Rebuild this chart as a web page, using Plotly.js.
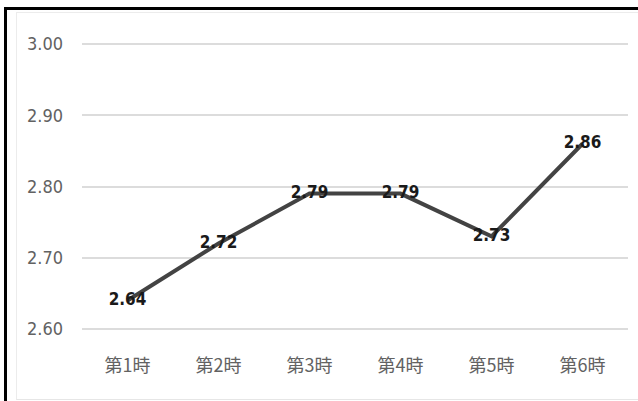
<!DOCTYPE html>
<html>
<head>
<meta charset="utf-8">
<script src="https://cdn.plot.ly/plotly-3.0.1.min.js"></script>
<style>
html,body{margin:0;padding:0;background:#fff;}
#wrap{position:relative;width:638px;height:401px;overflow:hidden;}
#chart{position:absolute;left:0;top:0;width:638px;height:401px;}
#frame{position:absolute;left:4px;top:7px;width:700px;height:500px;border-left:3px solid #000;border-top:3px solid #000;pointer-events:none;}
#inner{position:absolute;left:16px;top:12px;width:640px;height:386px;border-left:1px solid #ececec;border-top:1px solid #ececec;border-bottom:1px solid #e6e6e6;pointer-events:none;}
</style>
</head>
<body>
<div id="wrap">
<div id="chart"></div>
<div id="inner"></div>
<div id="frame"></div>
</div>
<script>
const categories = ["第1時", "第2時", "第3時", "第4時", "第5時", "第6時"];
const values = [2.64, 2.72, 2.79, 2.79, 2.73, 2.86];
const valueLabels = ["2.64", "2.72", "2.79", "2.79", "2.73", "2.86"];
const yTicks = [2.60, 2.70, 2.80, 2.90, 3.00];
const yTickLabels = ["2.60", "2.70", "2.80", "2.90", "3.00"];

const narrow = '"DejaVu Sans Condensed", "Liberation Sans Narrow", "Arial Narrow", sans-serif';

const trace = {
  x: categories,
  y: values,
  type: 'scatter',
  mode: 'lines+text',
  text: valueLabels,
  textposition: 'middle center',
  textfont: {family: narrow, size: 17, color: '#1a1a1a', weight: 'bold'},
  line: {color: '#434343', width: 4},
  hoverinfo: 'skip',
  cliponaxis: false
};

const layout = {
  width: 638,
  height: 401,
  margin: {l: 82, r: 10, t: 43, b: 71},
  paper_bgcolor: 'rgba(0,0,0,0)',
  plot_bgcolor: 'rgba(0,0,0,0)',
  showlegend: false,
  xaxis: {
    type: 'category',
    showgrid: false,
    zeroline: false,
    showline: false,
    ticks: '',
    tickfont: {family: '"Noto Sans CJK JP", "Noto Sans CJK SC", sans-serif', size: 18, color: '#626262'},
    ticklabelstandoff: 23,
    range: [-0.5, 5.5]
  },
  yaxis: {
    range: [2.5985, 3.0015],
    tickvals: yTicks,
    ticktext: yTickLabels,
    showgrid: true,
    gridcolor: '#dcdcdc',
    gridwidth: 2,
    zeroline: false,
    showline: false,
    ticks: '',
    tickfont: {family: narrow, size: 18, color: '#626262'},
    ticklabelstandoff: 18
  }
};

Plotly.newPlot('chart', [trace], layout, {displayModeBar: false, staticPlot: true});
</script>
</body>
</html>
